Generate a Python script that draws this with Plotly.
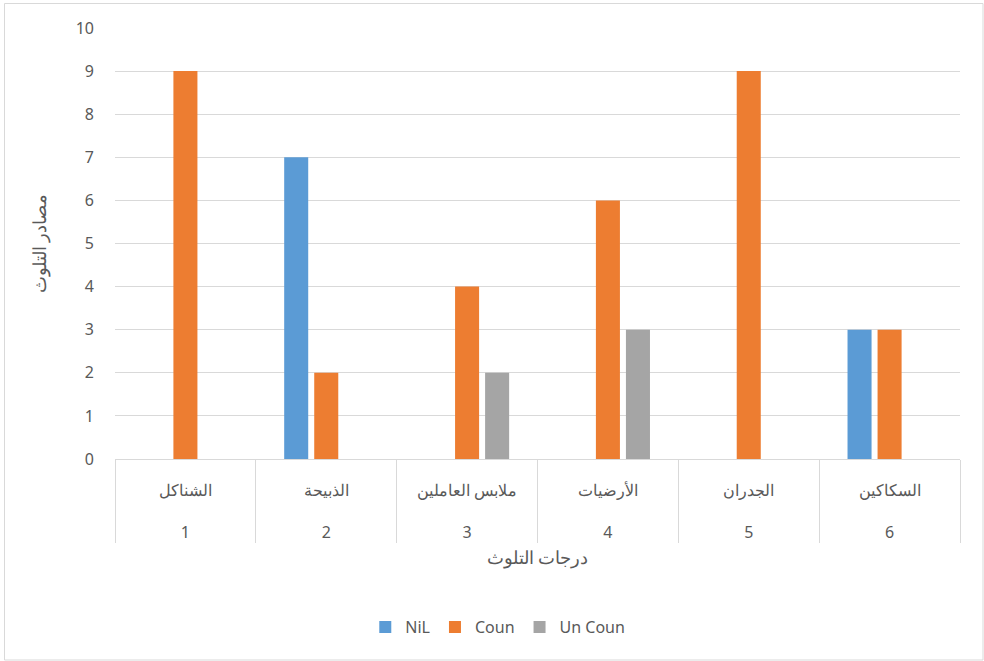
import plotly.graph_objects as go

levels = ["1", "2", "3", "4", "5", "6"]
sources = ["الشناكل", "الذبيحة", "ملابس العاملين", "الأرضيات", "الجدران", "السكاكين"]
nil = [0, 7, 0, 0, 0, 3]
coun = [9, 2, 4, 6, 9, 3]
uncoun = [0, 0, 2, 3, 0, 0]
yticks = list(range(0, 11))

ticktext = [f"{s}<br><br>{n}" for s, n in zip(sources, levels)]
font = "Noto Sans, Liberation Sans, sans-serif"

fig = go.Figure()
fig.add_trace(go.Bar(name="NiL", x=levels, y=nil, marker=dict(color="#5B9BD5", line=dict(width=0))))
fig.add_trace(go.Bar(name="Coun", x=levels, y=coun, marker=dict(color="#ED7D31", line=dict(width=0))))
fig.add_trace(go.Bar(name="Un Coun", x=levels, y=uncoun, marker=dict(color="#A5A5A5", line=dict(width=0))))

fig.update_layout(
    width=984, height=661,
    margin=dict(l=115, r=24, t=28, b=202),
    paper_bgcolor="white", plot_bgcolor="white",
    barmode="group", bargap=0.36, bargroupgap=0.2,
    font=dict(family=font, size=16, color="#595959"),
    showlegend=True,
    legend=dict(orientation="h", x=0.453, xanchor="center", y=-0.39, yanchor="middle",
                font=dict(size=16, color="#595959"), itemwidth=30, traceorder="normal"),
    xaxis=dict(type="category", tickmode="array", tickvals=levels, ticktext=ticktext,
               showline=True, linecolor="#D9D9D9", linewidth=1,
               tickson="boundaries", ticks="outside", ticklen=83, tickcolor="#D9D9D9", tickwidth=1,
               ticklabelstandoff=17,
               tickfont=dict(size=16, color="#595959"),
               title=dict(text="درجات التلوث", font=dict(size=18, color="#595959"), standoff=9)),
    yaxis=dict(range=[0, 10], tickvals=yticks, showgrid=True, gridcolor="#D9D9D9", gridwidth=1,
               zeroline=False, showline=False, ticks="", ticklen=0,
               ticklabelstandoff=20,
               tickfont=dict(size=16, color="#595959"),
               title=dict(text="مصادر التلوث", font=dict(size=18, color="#595959"), standoff=24)),
    shapes=[dict(type="rect", xref="paper", yref="paper",
                 x0=(4.5 - 115) / 845, x1=(983 - 115) / 845,
                 y0=(459 - 660) / 431, y1=(459 - 3.5) / 431,
                 line=dict(color="#D9D9D9", width=1), fillcolor="rgba(0,0,0,0)", layer="below")],
)

fig.write_html("out.html")
